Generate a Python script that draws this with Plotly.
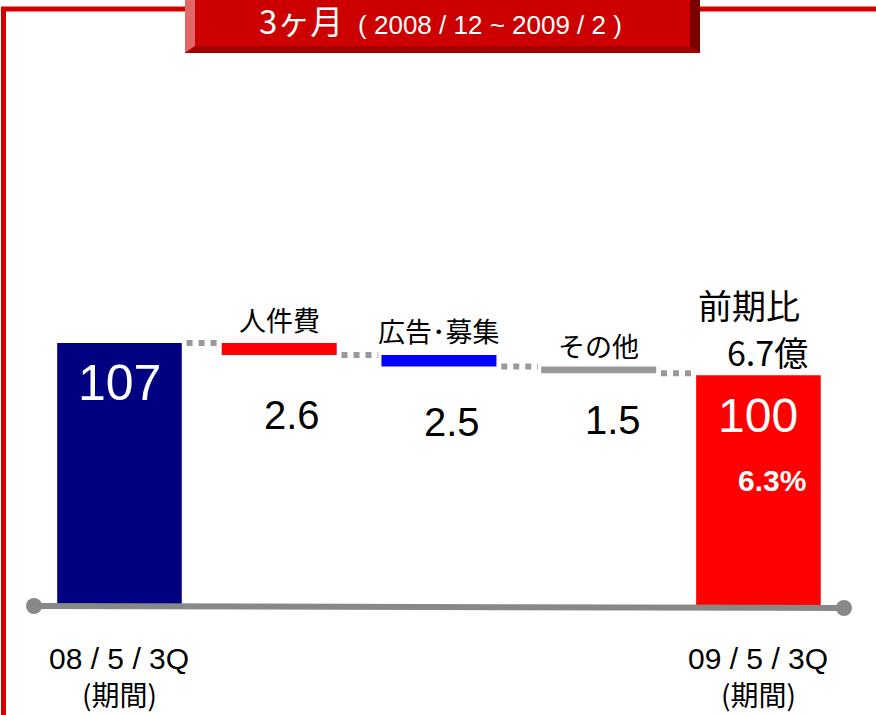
import plotly.graph_objects as go

# data
categories = ["08/5/3Q", "人件費", "広告･募集", "その他", "09/5/3Q"]
start_value = 107
decreases = [2.6, 2.5, 1.5]
end_value = 100
diff_label = "6.7億"
diff_pct = "6.3%"
title_main = "3ヶ月"
title_period = "( 2008 / 12 ~ 2009 / 2 )"
axis_floor = 50

W, H = 876, 715
FONT = "Liberation Sans, Arial, Noto Sans CJK JP"
CJK = "Noto Sans CJK JP, Liberation Sans"

def px(x):
	return x / W

def py(y):
	return 1 - y / H

fig = go.Figure()

# end bars
fig.add_trace(go.Bar(x=[0], y=[start_value - axis_floor], base=[axis_floor], width=[0.78],
	marker=dict(color="#000080", line=dict(width=0)), hoverinfo="skip"))
fig.add_trace(go.Bar(x=[4], y=[end_value - axis_floor], base=[axis_floor], width=[0.78],
	marker=dict(color="#ff0000", line=dict(width=0)), hoverinfo="skip"))

# decreasing bars
colors = ["#ff0000", "#0000ff", "#999999"]
level = start_value
levels = [level]
for i, d in enumerate(decreases):
	fig.add_trace(go.Bar(x=[i + 1], y=[d], base=[level - d], width=[0.72],
		marker=dict(color=colors[i], line=dict(width=0)), hoverinfo="skip"))
	level = level - d
	levels.append(level)

# dotted connectors
widths = [0.78, 0.72, 0.72, 0.72, 0.78]
for i in range(4):
	x0 = i + widths[i] / 2 + 0.03
	x1 = i + 1 - widths[i + 1] / 2 - 0.02
	fig.add_trace(go.Scatter(x=[x0, x1], y=[levels[i], levels[i]], mode="lines",
		line=dict(color="#999999", width=6, dash="dot"), hoverinfo="skip"))

fig.update_layout(
	width=W, height=H, margin=dict(l=0, r=0, t=0, b=0),
	paper_bgcolor="white", plot_bgcolor="white", showlegend=False,
	barmode="overlay",
	xaxis=dict(range=[-0.748, 4.736], visible=False, fixedrange=True),
	yaxis=dict(range=[26.1, 181.6], visible=False, fixedrange=True),
)

shapes = []
# red frame
shapes.append(dict(type="line", xref="paper", yref="paper", x0=px(3.5), x1=px(3.5), y0=py(9), y1=py(715),
	line=dict(color="#d40000", width=5)))
shapes.append(dict(type="line", xref="paper", yref="paper", x0=px(1), x1=px(186), y0=py(9), y1=py(9),
	line=dict(color="#d40000", width=5)))
shapes.append(dict(type="line", xref="paper", yref="paper", x0=px(699), x1=px(876), y0=py(9), y1=py(9),
	line=dict(color="#d40000", width=5)))
# title box with bevel
shapes.append(dict(type="rect", xref="paper", yref="paper", x0=px(185), x1=px(700), y0=py(53), y1=py(0),
	fillcolor="#cc0000", line=dict(width=0), layer="above"))
shapes.append(dict(type="path", xref="paper", yref="paper", layer="above",
	path="M %f,%f L %f,%f L %f,%f L %f,%f Z" % (px(185), py(0), px(195), py(0), px(195), py(46), px(185), py(53)),
	fillcolor="#e26868", line=dict(width=0)))
shapes.append(dict(type="path", xref="paper", yref="paper", layer="above",
	path="M %f,%f L %f,%f L %f,%f L %f,%f Z" % (px(690), py(0), px(700), py(0), px(700), py(53), px(690), py(46)),
	fillcolor="#7a0000", line=dict(width=0)))
shapes.append(dict(type="path", xref="paper", yref="paper", layer="above",
	path="M %f,%f L %f,%f L %f,%f L %f,%f Z" % (px(195), py(46), px(690), py(46), px(700), py(53), px(185), py(53)),
	fillcolor="#a40000", line=dict(width=0)))
# baseline
shapes.append(dict(type="line", xref="paper", yref="paper", x0=px(34), x1=px(844), y0=py(606), y1=py(608),
	line=dict(color="#888888", width=6)))
for cx, cy in [(34, 606), (844, 608)]:
	shapes.append(dict(type="circle", xref="paper", yref="paper", x0=px(cx - 8), x1=px(cx + 8),
		y0=py(cy + 8), y1=py(cy - 8), fillcolor="#888888", line=dict(width=0)))
fig.update_layout(shapes=shapes)

ann = []
def txt(text, x, y, size, color="black", xref="x", family=FONT, xanchor="center"):
	ann.append(dict(text=text, x=x, y=py(y), xref=xref, yref="paper", showarrow=False,
		font=dict(size=size, color=color, family=family), xanchor=xanchor, yanchor="middle"))

# title
txt(title_main + "  <span style='font-size:26px;font-family:Liberation Sans'>" + title_period + "</span>",
	px(440), 20, 33, color="white", xref="paper", family=CJK)

# values in end bars
txt(str(start_value), 0, 383, 50, color="white")
txt(str(end_value), 4, 415, 48, color="white")
txt("<b>" + diff_pct + "</b>", 4.088, 480, 30, color="white")
txt("前期比", 4 - 0.06, 304, 34, family=CJK)
txt(diff_label, 4 + 0.056, 351, 34, family=CJK)

# decrease labels
label_y = [320, 330, 345]
value_y = [415, 422, 420]
value_dx = [0.078, 0.081, 0.09]
for i, d in enumerate(decreases):
	txt(categories[i + 1], i + 1, label_y[i], 27, family=CJK)
	txt(str(d), i + 1 + value_dx[i], value_y[i], 40)

# bottom labels
for i in [0, 4]:
	txt(" / ".join(categories[i].split("/")), i, 658, 30)
	txt("(期間)", i, 694, 28, family=CJK)

fig.update_layout(annotations=ann)
fig.write_html("out.html", config=dict(displayModeBar=False),
	post_script="document.body.style.margin='0px';")
